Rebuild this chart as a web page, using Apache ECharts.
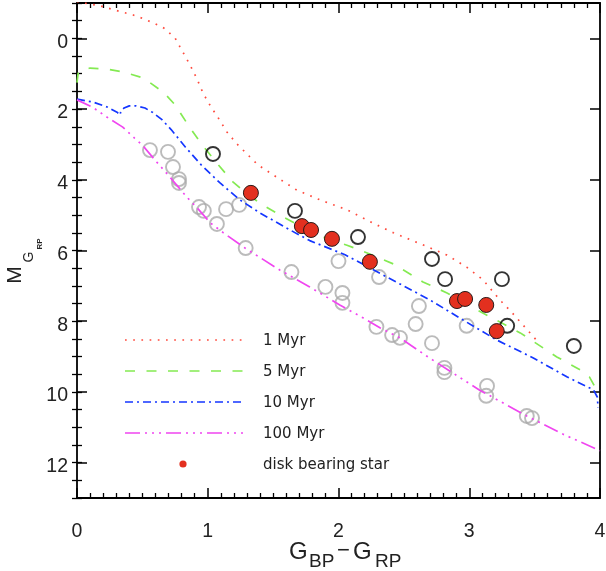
<!DOCTYPE html>
<html>
<head>
<meta charset="utf-8">
<script src="https://cdn.jsdelivr.net/npm/echarts@6/dist/echarts.min.js"></script>
<style>
  html, body { margin: 0; padding: 0; background: #ffffff; }
  #chart { width: 606px; height: 571px; }
</style>
</head>
<body>
<div id="chart"></div>
<script>
// ---- data ----
const xTicks = [0, 1, 2, 3, 4];
const yTicks = [0, 2, 4, 6, 8, 10, 12];

const iso1Myr = [[0.0,-1.04],[0.176,-0.92],[0.29,-0.80],[0.43,-0.66],[0.505,-0.56],[0.60,-0.41],[0.665,-0.29],[0.75,-0.01],[0.81,0.39],[0.864,0.75],[0.918,1.15],[0.964,1.55],[1.025,1.94],[1.086,2.28],[1.147,2.65],[1.224,2.99],[1.30,3.27],[1.384,3.58],[1.50,3.86],[1.68,4.29],[1.86,4.57],[2.065,4.85],[2.26,5.22],[2.42,5.50],[2.646,5.84],[2.83,6.13],[2.98,6.47],[3.105,6.83],[3.235,7.40],[3.33,7.77],[3.51,8.52]];
const iso5Myr = [[0.0,1.25],[0.01,0.95],[0.10,0.84],[0.23,0.87],[0.35,0.95],[0.50,1.11],[0.545,1.22],[0.66,1.52],[0.75,1.88],[0.85,2.45],[0.95,2.98],[1.07,3.53],[1.19,4.05],[1.30,4.40],[1.42,4.71],[1.575,5.05],[1.72,5.33],[1.88,5.62],[2.065,5.85],[2.22,6.07],[2.42,6.38],[2.646,6.89],[2.83,7.20],[3.06,7.68],[3.39,8.33],[3.67,9.01],[3.85,9.38],[3.92,9.58],[3.96,9.85]];
const iso10Myr = [[0.0,1.72],[0.12,1.80],[0.23,1.94],[0.31,2.10],[0.33,2.17],[0.335,2.05],[0.36,1.97],[0.40,1.91],[0.45,1.91],[0.52,1.97],[0.58,2.10],[0.65,2.30],[0.72,2.58],[0.83,3.08],[0.95,3.58],[1.094,4.09],[1.247,4.57],[1.40,4.94],[1.63,5.42],[1.78,5.72],[2.05,6.12],[2.37,6.75],[2.70,7.40],[2.95,7.96],[3.21,8.53],[3.49,9.04],[3.75,9.58],[3.95,9.94],[3.98,10.15],[3.985,10.45]];
const iso100Myr = [[0.0,1.74],[0.12,1.95],[0.25,2.28],[0.35,2.51],[0.44,2.82],[0.50,3.02],[0.61,3.50],[0.71,3.92],[0.84,4.49],[0.92,4.80],[1.02,5.22],[1.12,5.50],[1.285,5.93],[1.55,6.55],[1.78,7.03],[2.01,7.54],[2.19,7.91],[2.32,8.19],[2.47,8.47],[2.70,9.05],[3.08,9.95],[3.44,10.68],[3.72,11.20],[4.0,11.66]];

const grayStars = [[0.558,3.16],[0.696,3.21],[0.734,3.64],[0.78,3.98],[0.78,4.09],[0.933,4.77],[0.97,4.88],[1.07,5.25],[1.14,4.83],[1.24,4.71],[1.29,5.93],[1.64,6.61],[1.90,7.03],[2.00,6.30],[2.03,7.20],[2.03,7.48],[2.29,8.16],[2.31,6.75],[2.41,8.39],[2.47,8.47],[2.59,8.08],[2.615,7.57],[2.715,8.62],[2.81,9.32],[2.81,9.44],[2.98,8.13],[3.136,9.83],[3.13,10.11],[3.44,10.68],[3.48,10.74]];
const blackStars = [[1.04,3.27],[1.667,4.88],[2.149,5.62],[2.715,6.24],[2.815,6.81],[3.25,6.81],[3.29,8.13],[3.80,8.70]];
const diskStars = [[1.33,4.37],[1.72,5.31],[1.79,5.42],[1.95,5.67],[2.24,6.32],[2.906,7.43],[2.968,7.37],[3.13,7.54],[3.21,8.28]];

const legendNames = ['1 Myr', '5 Myr', '10 Myr', '100 Myr', 'disk bearing star'];

// ---- styles ----
const C_RED = '#ff4a3d', C_GREEN = '#84ea52', C_BLUE = '#1436ff', C_MAG = '#f046f0';
const C_DISK = '#e3301f';
const DASH = {
  d1: [1.7, 6.5],
  d5: [10, 11.5],
  d10: [8, 4, 2, 4],
  d100: [15, 5, 2, 5, 2, 5, 2, 5]
};
const AX = '#000';
const LAB = { fontFamily: 'Liberation Sans, Arial, sans-serif', fontSize: 19.5, color: '#222' };

function xAx(pos, showLabel) {
  return {
    type: 'value', position: pos, min: 0, max: 4, interval: 1,
    axisLine: { show: true, onZero: false, lineStyle: { color: AX, width: 1.8 } },
    axisTick: { show: true, inside: true, length: 10, lineStyle: { color: AX, width: 1.5 } },
    minorTick: { show: true, splitNumber: 10, length: 5, lineStyle: { color: AX, width: 1.3 } },
    axisLabel: Object.assign({ show: showLabel, margin: 24 }, LAB),
    splitLine: { show: false }, minorSplitLine: { show: false }
  };
}
function yMajor(pos, showLabel) {
  return {
    type: 'value', position: pos, inverse: true, min: -1, max: 13, splitNumber: 7,
    axisLine: { show: true, onZero: false, lineStyle: { color: AX, width: 1.8 } },
    axisTick: { show: true, inside: true, length: 10, lineStyle: { color: AX, width: 1.5 } },
    axisLabel: Object.assign({
      show: showLabel, margin: 9,
      formatter: v => (yTicks.indexOf(v) >= 0 ? '{a|' + v + '}' : ''),
      rich: { a: Object.assign({ padding: [8, 0, 0, 0] }, LAB) }
    }, LAB),
    splitLine: { show: false }
  };
}
function yMinor(pos) {
  return {
    type: 'value', position: pos, inverse: true, min: -1, max: 13, interval: 0.5,
    axisLine: { show: false },
    axisTick: { show: true, inside: true, length: 5, lineStyle: { color: AX, width: 1.3 } },
    axisLabel: { show: false },
    splitLine: { show: false }
  };
}

function lineSeries(name, data, color, dash) {
  return {
    name, type: 'line', data, xAxisIndex: 0, yAxisIndex: 0,
    symbol: 'none', smooth: false, clip: true, z: 3,
    lineStyle: { color, width: 1.7, type: dash, cap: 'butt' }
  };
}

// legend drawn as graphics (pixel layout only)
const legX0 = 125, legX1 = 243, legTextX = 263;
const legY = [340, 371, 402, 433, 464];
const legStyles = [[C_RED, DASH.d1], [C_GREEN, DASH.d5], [C_BLUE, DASH.d10], [C_MAG, DASH.d100]];
const graphics = [];
legStyles.forEach((s, i) => {
  graphics.push({
    type: 'line', shape: { x1: legX0, y1: legY[i], x2: legX1, y2: legY[i] },
    style: { stroke: s[0], lineWidth: 1.7, lineDash: s[1] }, z: 10
  });
});
graphics.push({ type: 'circle', shape: { cx: 183, cy: legY[4], r: 3.6 }, style: { fill: C_DISK }, z: 10 });
legendNames.forEach((n, i) => {
  graphics.push({
    type: 'text', x: legTextX, y: legY[i] + 1,
    style: { text: n, fill: '#222', font: '15px "DejaVu Sans", sans-serif', textAlign: 'left', textVerticalAlign: 'middle' }, z: 10
  });
});
// x-axis title  G_BP - G_RP
const TF = 'Liberation Sans, Arial, sans-serif';
graphics.push(
  { type: 'text', x: 289, y: 552, style: { text: 'G', fill: '#222', font: '24px ' + TF, textAlign: 'left', textVerticalAlign: 'middle' } },
  { type: 'text', x: 309, y: 562, style: { text: 'BP', fill: '#222', font: '19px ' + TF, textAlign: 'left', textVerticalAlign: 'middle' } },
  { type: 'text', x: 337, y: 551, style: { text: '\u2212', fill: '#222', font: '22px ' + TF, textAlign: 'left', textVerticalAlign: 'middle' } },
  { type: 'text', x: 353, y: 552, style: { text: 'G', fill: '#222', font: '24px ' + TF, textAlign: 'left', textVerticalAlign: 'middle' } },
  { type: 'text', x: 375, y: 562, style: { text: 'RP', fill: '#222', font: '19px ' + TF, textAlign: 'left', textVerticalAlign: 'middle' } }
);
// y-axis title  M_{G_RP}
graphics.push(
  { type: 'text', x: 15, y: 275, rotation: Math.PI / 2, style: { text: 'M', fill: '#222', font: '21px ' + TF, textAlign: 'center', textVerticalAlign: 'middle' } },
  { type: 'text', x: 29.5, y: 257, rotation: Math.PI / 2, style: { text: 'G', fill: '#222', font: '14px ' + TF, textAlign: 'center', textVerticalAlign: 'middle' } },
  { type: 'text', x: 39.5, y: 244, rotation: Math.PI / 2, style: { text: 'RP', fill: '#222', font: 'bold 8px ' + TF, textAlign: 'center', textVerticalAlign: 'middle' } }
);

const chart = echarts.init(document.getElementById('chart'), null, { renderer: 'canvas' });
chart.setOption({
  animation: false,
  backgroundColor: '#ffffff',
  grid: { left: 77, right: 6, top: 3, bottom: 73, containLabel: false, outerBoundsMode: 'none' },
  xAxis: [xAx('bottom', true), xAx('top', false)],
  yAxis: [yMajor('left', true), yMinor('left'), yMajor('right', false), yMinor('right')],
  series: [
    lineSeries(legendNames[0], iso1Myr, C_RED, DASH.d1),
    lineSeries(legendNames[1], iso5Myr, C_GREEN, DASH.d5),
    lineSeries(legendNames[2], iso10Myr, C_BLUE, DASH.d10),
    lineSeries(legendNames[3], iso100Myr, C_MAG, DASH.d100),
    {
      name: 'field', type: 'scatter', data: grayStars, symbol: 'circle', symbolSize: 14, z: 2,
      itemStyle: { color: 'rgba(0,0,0,0)', borderColor: '#aaaaaa', borderWidth: 1.9 }
    },
    {
      name: 'no disk', type: 'scatter', data: blackStars, symbol: 'circle', symbolSize: 14, z: 4,
      itemStyle: { color: 'rgba(0,0,0,0)', borderColor: '#000000', borderWidth: 1.9 }
    },
    {
      name: legendNames[4], type: 'scatter', data: diskStars, symbol: 'circle', symbolSize: 15, z: 5,
      itemStyle: { color: C_DISK, borderColor: '#2a1a18', borderWidth: 1, opacity: 1 }
    }
  ],
  graphic: graphics
});
</script>
</body>
</html>
